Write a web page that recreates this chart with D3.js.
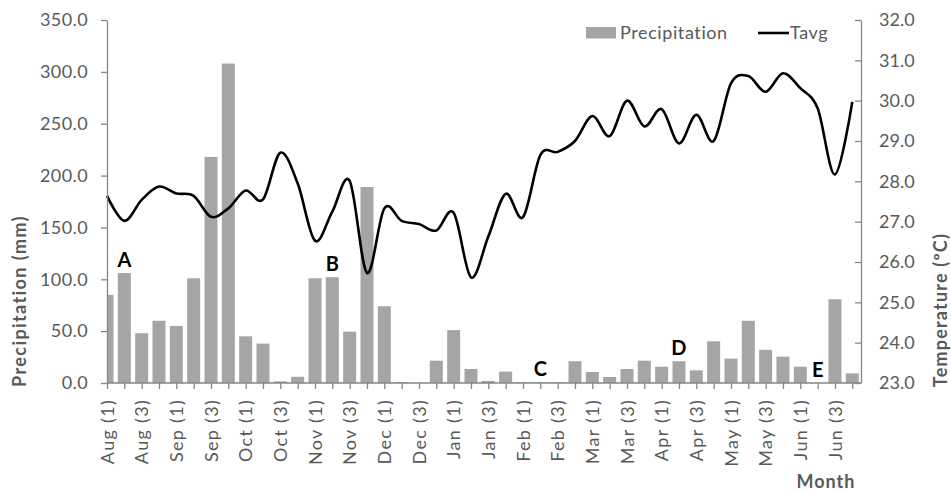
<!DOCTYPE html>
<html>
<head>
<meta charset="utf-8">
<script src="https://cdn.jsdelivr.net/npm/d3@7"></script>
<style>
  body { margin: 0; background: #fff; }
  text { font-family: Lato, "Liberation Sans", sans-serif; }
</style>
</head>
<body>
<div class="chart"></div>
<script>
var months = ["Aug", "Sep", "Oct", "Nov", "Dec", "Jan", "Feb", "Mar", "Apr", "May", "Jun"];
var weeks = [1, 2, 3, 4];
var shownWeeks = [1, 3];

var precipitation = [85, 106, 48, 60, 55, 101, 218, 308, 45, 38, 1.6, 6,
  101, 102, 49.5, 189, 74, 1, 0, 21.5, 51, 13.5, 2, 11,
  0.5, 0.5, 0.5, 21, 10.6, 5.8, 13.5, 21.5, 15.7, 21, 12.2, 40.2,
  23.5, 60, 32, 25.4, 15.7, 0, 80.7, 9.3];

var tavg = [27.64, 27.02, 27.54, 27.87, 27.70, 27.64, 27.12, 27.33, 27.77, 27.55, 28.71,
  27.95, 26.53, 27.25, 28.01, 25.73, 27.33, 27.02, 26.94, 26.78, 27.22, 25.62,
  26.63, 27.69, 27.11, 28.65, 28.73, 29.0, 29.62, 29.12, 30.0, 29.36, 29.79,
  28.94, 29.65, 29.0, 30.43, 30.61, 30.22, 30.68, 30.31, 29.81, 28.17, 29.97];

var markers = ["A", "B", "C", "D", "E"];
var markerCats = ["Aug (2)", "Nov (2)", "Feb (2)", "Apr (2)", "Jun (2)"];

var precipTicks = [0, 50, 100, 150, 200, 250, 300, 350];
var tempTicks = [23, 24, 25, 26, 27, 28, 29, 30, 31, 32];

var categories = [];
months.forEach(function(m) {
  weeks.forEach(function(w) { categories.push(m + " (" + w + ")"); });
});

var width = 951, height = 493;
var plotLeft = 107, plotRight = 861, plotTop = 20, plotBottom = 383;
var grey = "#595959";

var svg = d3.select(".chart").append("svg")
  .attr("width", width)
  .attr("height", height);

var x = d3.scalePoint().domain(categories).range([plotLeft, 852.3]);
var yP = d3.scaleLinear().domain([0, 350]).range([plotBottom, plotTop]);
var yT = d3.scaleLinear().domain([23, 32]).range([plotBottom, plotTop]);
var barW = x.step() * 0.75;

svg.append("clipPath").attr("id", "plot")
  .append("rect")
  .attr("x", plotLeft).attr("y", 0)
  .attr("width", plotRight - plotLeft).attr("height", plotBottom);

svg.append("g")
  .attr("clip-path", "url(#plot)")
  .selectAll("rect")
  .data(precipitation)
  .enter()
  .append("rect")
  .attr("x", function(d, i) { return x(categories[i]) - barW / 2; })
  .attr("y", function(d) { return yP(d); })
  .attr("width", barW)
  .attr("height", function(d) { return plotBottom - yP(d); })
  .attr("fill", "#a5a5a5");

var line = d3.line()
  .x(function(d, i) { return x(categories[i]); })
  .y(function(d) { return yT(d); })
  .curve(d3.curveCardinal);

svg.append("path")
  .datum(tavg)
  .attr("d", line)
  .attr("fill", "none")
  .attr("stroke", "#000")
  .attr("stroke-width", 2.6);

// letters above bars
svg.selectAll(".marker")
  .data(markers)
  .enter()
  .append("text")
  .attr("class", "marker")
  .attr("x", function(d, i) { return x(markerCats[i]); })
  .attr("y", function(d, i) { return yP(precipitation[categories.indexOf(markerCats[i])]) - 6; })
  .attr("text-anchor", "middle")
  .attr("font-size", 20)
  .attr("font-weight", "bold")
  .attr("fill", "#000")
  .text(function(d) { return d; });

function styleAxis(g) {
  g.select(".domain").attr("stroke", "#868686").attr("stroke-width", 1.3);
  g.selectAll(".tick line").attr("stroke", "#868686").attr("stroke-width", 1.3);
  g.selectAll(".tick text").attr("fill", grey).attr("font-size", 18);
}

var leftAxis = svg.append("g")
  .attr("transform", "translate(" + plotLeft + ",0)")
  .call(d3.axisLeft(yP).tickValues(precipTicks).tickSize(6).tickSizeOuter(0)
    .tickFormat(d3.format(".1f")));
styleAxis(leftAxis);
leftAxis.selectAll(".tick text").attr("x", -19).attr("letter-spacing", 0.4);

var rightAxis = svg.append("g")
  .attr("transform", "translate(" + plotRight + ",0)")
  .call(d3.axisRight(yT).tickValues(tempTicks).tickSize(-6).tickSizeOuter(0)
    .tickFormat(d3.format(".1f")));
styleAxis(rightAxis);
rightAxis.selectAll(".tick text").attr("x", 18);

var bottomAxis = svg.append("g")
  .attr("transform", "translate(0," + plotBottom + ")")
  .call(d3.axisBottom(x).tickSize(6).tickSizeOuter(0)
    .tickFormat(function(d) {
      var w = +d.slice(-2, -1);
      return shownWeeks.indexOf(w) >= 0 ? d : "";
    }));
styleAxis(bottomAxis);
bottomAxis.select(".domain").attr("d", "M" + plotLeft + ",0H" + plotRight);
bottomAxis.selectAll(".tick text")
  .attr("transform", "rotate(-90)")
  .attr("text-anchor", "end")
  .attr("letter-spacing", 1.3)
  .attr("x", -16)
  .attr("y", 0)
  .attr("dy", "0.35em");

svg.append("text")
  .attr("transform", "translate(20,301) rotate(-90)")
  .attr("text-anchor", "middle")
  .attr("dy", "0.35em")
  .attr("font-size", 18)
  .attr("letter-spacing", 1.4)
  .attr("font-weight", "bold")
  .attr("fill", grey)
  .text("Precipitation (mm)");

svg.append("text")
  .attr("transform", "translate(941,310) rotate(-90)")
  .attr("text-anchor", "middle")
  .attr("dy", "0.35em")
  .attr("font-size", 18)
  .attr("letter-spacing", 1.2)
  .attr("font-weight", "bold")
  .attr("fill", grey)
  .text("Temperature (ºC)");

svg.append("text")
  .attr("x", 826)
  .attr("y", 488)
  .attr("text-anchor", "middle")
  .attr("font-size", 18)
  .attr("letter-spacing", 1)
  .attr("font-weight", "bold")
  .attr("fill", grey)
  .text("Month");

// legend
var legend = svg.append("g");
legend.append("rect")
  .attr("x", 586).attr("y", 27)
  .attr("width", 30).attr("height", 11.5)
  .attr("fill", "#a5a5a5");
legend.append("text")
  .attr("x", 620).attr("y", 33).attr("dy", "0.35em")
  .attr("font-size", 18).attr("letter-spacing", 0.6).attr("fill", grey)
  .text("Precipitation");
legend.append("line")
  .attr("x1", 758).attr("x2", 789)
  .attr("y1", 33).attr("y2", 33)
  .attr("stroke", "#000").attr("stroke-width", 2.6);
legend.append("text")
  .attr("x", 790).attr("y", 33).attr("dy", "0.35em")
  .attr("font-size", 18).attr("letter-spacing", 0.6).attr("fill", grey)
  .text("Tavg");
</script>
</body>
</html>
